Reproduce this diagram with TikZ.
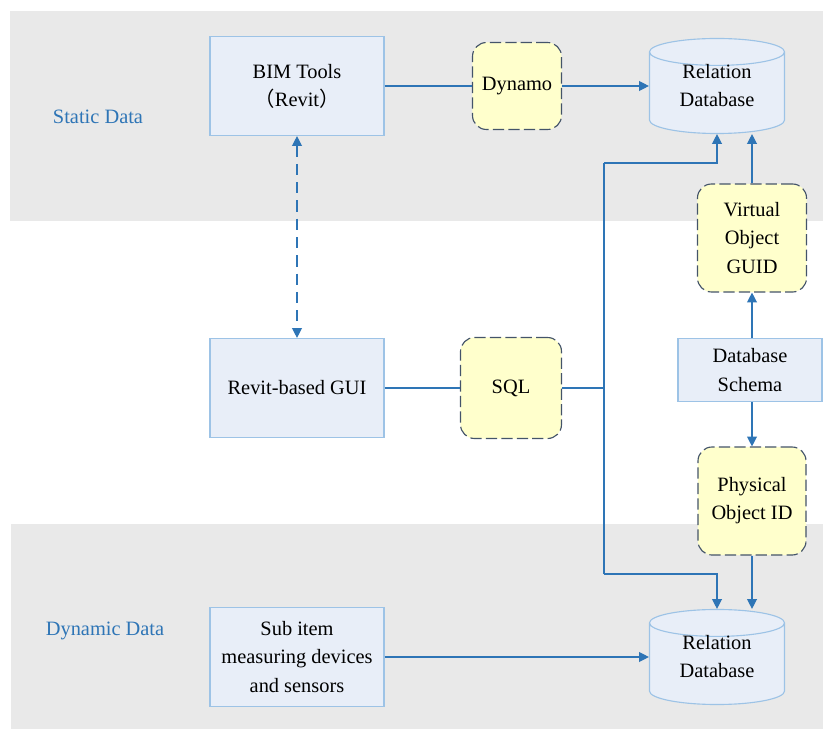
\documentclass[tikz,border=0pt]{standalone}
\usepackage{fontspec}
\setmainfont{Liberation Serif}
\newfontfamily\cjkfont{Noto Sans CJK SC}
\usetikzlibrary{positioning,arrows.meta,shapes.geometric}
\definecolor{bandgray}{RGB}{233,233,233}
\definecolor{boxfill}{RGB}{232,238,248}
\definecolor{boxedge}{RGB}{157,195,230}
\definecolor{notefill}{RGB}{255,255,204}
\definecolor{noteedge}{RGB}{68,84,106}
\definecolor{linkblue}{RGB}{46,117,182}

\newcommand{\dbtext}[2]{\raisebox{0.7pt}[0pt][0pt]{\begin{tabular}{@{}c@{}}#1\\#2\end{tabular}}}

\tikzset{
  basefont/.style={font=\fontsize{14.5}{20}\selectfont},
  toolbox/.style={basefont,draw=boxedge,fill=boxfill,line width=0.8pt,
    minimum width=4.35cm,minimum height=2.475cm,align=center,inner sep=2pt},
  notebox/.style={basefont,draw=noteedge,fill=notefill,line width=0.8pt,
    dash pattern=on 8pt off 3pt,rounded corners=10pt,align=center,inner sep=2pt},
  dbase/.style={basefont,cylinder,shape border rotate=90,aspect=0.36,
    draw=boxedge,fill=boxfill,line width=0.8pt,
    minimum width=3.375cm,minimum height=2.375cm,inner sep=0pt},
  link/.style={draw=linkblue,line width=0.9pt},
  arrowlink/.style={link,-{Triangle[length=7pt,width=7pt]}},
  sidelabel/.style={basefont,text=linkblue}
}

\begin{document}
\begin{tikzpicture}[x=0.025cm,y=-0.025cm]
  \useasboundingbox (0,0) rectangle (823,729);
  % layer bands
  \fill[bandgray] (10,11) rectangle (823,221);
  \fill[bandgray] (11,524) rectangle (823,729);

  \node[sidelabel] (static) at (98,117) {Static Data};
  \node[sidelabel] (dynamic) at (105,631) {Dynamic Data};

  % left column
  \node[toolbox] (bim) at (297,86) {BIM Tools\\{\cjkfont （}Revit{\cjkfont ）}};
  \node[toolbox] (gui) at (297,388) {Revit-based GUI};
  \node[toolbox] (sensor) at (297,657) {Sub item\\measuring devices\\and sensors};

  % middle column
  \node[notebox,minimum width=2.225cm,minimum height=2.175cm] (dynamo) at (517,86) {Dynamo};
  \node[notebox,minimum width=2.525cm,minimum height=2.525cm] (sql) at (511,388) {SQL};

  % databases
  \node[dbase] (dbtop) at (717,93) {\dbtext{Relation}{Database}};
  \node[dbase] (dbbot) at (717,664) {\dbtext{Relation}{Database}};

  % right column
  \node[notebox,minimum width=2.725cm,minimum height=2.7cm] (vguid) at (752,238) {Virtual\\Object\\GUID};
  \node[toolbox,minimum width=3.6cm,minimum height=1.575cm] (schema) at (750,370) {Database\\Schema};
  \node[notebox,minimum width=2.7cm,minimum height=2.7cm] (phys) at (752,501) {Physical\\Object ID};

  \coordinate (bustop) at (604,163);
  \coordinate (busmid) at (604,388);
  \coordinate (busbot) at (604,574);

  % connectors
  \draw[link] (bim) -- (dynamo);
  \draw[arrowlink] (dynamo) -- (dynamo -| dbtop.west);
  \draw[link,{Triangle[length=7pt,width=7pt]}-{Triangle[length=7pt,width=7pt]},
        dash pattern=on 8pt off 5pt] (bim) -- (gui);
  \draw[link] (gui) -- (sql);
  \draw[link] (sql) -- (busmid);
  \draw[link] (busbot) -- (bustop);
  \draw[arrowlink] (bustop) -| (dbtop.south);
  \draw[arrowlink] (busbot) -| (dbbot.north);
  \draw[arrowlink] (vguid.north) -- (vguid.north |- dbtop.south);
  \draw[arrowlink] (schema.north -| vguid) -- (vguid.south);
  \draw[arrowlink] (schema.south -| phys) -- (phys.north);
  \draw[arrowlink] (phys.south) -- (phys.south |- dbbot.north);
  \draw[arrowlink] (sensor) -- (sensor -| dbbot.west);
\end{tikzpicture}
\end{document}
